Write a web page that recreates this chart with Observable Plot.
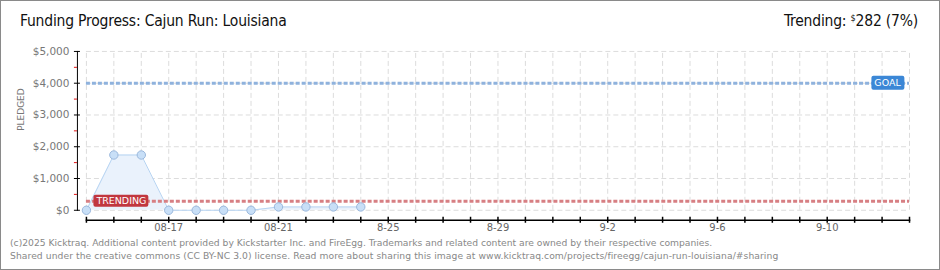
<!DOCTYPE html>
<html>
<head>
<meta charset="utf-8">
<script src="https://cdn.jsdelivr.net/npm/d3@7"></script>
<script src="https://cdn.jsdelivr.net/npm/@observablehq/plot@0.6"></script>
<style>
  html, body { margin: 0; padding: 0; background: #fff; }
  #box { position: relative; width: 938px; height: 268px; border: 1px solid #8a8a8a; overflow: hidden; background: #fff; }
  #chart { position: absolute; left: -1px; top: -1px; }
  .title { position: absolute; left: 19px; top: 11px; font-family: "DejaVu Sans Condensed", "DejaVu Sans", sans-serif; font-size: 15.5px; color: #111; white-space: nowrap; letter-spacing: -0.2px; }
  .trend { position: absolute; right: 21px; top: 11px; font-family: "DejaVu Sans Condensed", "DejaVu Sans", sans-serif; font-size: 15.5px; color: #111; white-space: nowrap; letter-spacing: -0.2px; }
  .trend sup { font-size: 9px; vertical-align: 5px; }
  .foot { position: absolute; left: 9px; font-family: "DejaVu Sans", sans-serif; font-size: 9.2px; color: #888; white-space: nowrap; }
</style>
</head>
<body>
<div id="box">
  <div id="chart"></div>
  <div class="title">Funding Progress: Cajun Run: Louisiana</div>
  <div class="trend">Trending:&nbsp;<sup>$</sup>282 (7%)</div>
  <div class="foot" style="top:236px">(c)2025 Kicktraq. Additional content provided by Kickstarter Inc. and FireEgg. Trademarks and related content are owned by their respective companies.</div>
  <div class="foot" style="top:249px; letter-spacing:0.07px">Shared under the creative commons (CC BY-NC 3.0) license. Read more about sharing this image at www.kicktraq.com/projects/fireegg/cajun-run-louisiana/#sharing</div>
</div>
<script>
// ---- data ----
const dates = ["2025-08-14","2025-08-15","2025-08-16","2025-08-17","2025-08-18","2025-08-19","2025-08-20","2025-08-21","2025-08-22","2025-08-23","2025-08-24"];
const pledged = [0, 1740, 1740, 0, 0, 0, 0, 105, 105, 105, 105];
const goalValue = 4000;
const trendingValue = 282;
const xDomain = ["2025-08-14", "2025-09-13"];
const yTicks = [0, 1000, 2000, 3000, 4000, 5000];
const yMinorTicks = [500, 1500, 2500, 3500, 4500];
const xLabelDates = ["2025-08-17","2025-08-21","2025-08-25","2025-08-29","2025-09-02","2025-09-06","2025-09-10"];
const xLabels = ["08-17","08-21","8-25","8-29","9-2","9-6","9-10"];
const badgeLabels = ["TRENDING", "GOAL"];

const parse = d3.utcParse("%Y-%m-%d");
const data = dates.map((d, i) => ({date: parse(d), value: pledged[i]}));
const x0 = parse(xDomain[0]), x1 = parse(xDomain[1]);
const days = d3.utcDay.range(x0, d3.utcDay.offset(x1, 1));
const labelDates = xLabelDates.map(parse);
const fmt = d3.format(",");

const chart = Plot.plot({
  width: 940,
  height: 270,
  marginLeft: 86,
  marginRight: 30,
  marginTop: 51,
  marginBottom: 60,
  style: {background: "transparent", fontFamily: "DejaVu Sans, sans-serif"},
  x: {type: "utc", domain: [x0, x1]},
  y: {domain: [0, 5000]},
  marks: [
    Plot.ruleX(days, {x: d => d, y1: 0, y2: 5000, stroke: "#dcdcdc", strokeDasharray: "5,3"}),
    Plot.ruleY(yTicks, {y: d => d, x1: x0, x2: x1, stroke: "#dcdcdc", strokeDasharray: "5,3"}),
    Plot.areaY(data, {x: "date", y: "value", fill: "#eaf2fc"}),
    Plot.lineY(data, {x: "date", y: "value", stroke: "#b7d4f2", strokeWidth: 1}),
    Plot.ruleY([goalValue], {y: d => d, stroke: "#8fb2dd", strokeWidth: 3, strokeDasharray: "4,2"}),
    Plot.ruleY([trendingValue], {y: d => d, stroke: "#d77f83", strokeWidth: 3, strokeDasharray: "4,2"}),
    Plot.dot(data, {x: "date", y: "value", r: 4.2, fill: "#c8dff7", stroke: "#9ab7db", strokeWidth: 1}),
    // y axis
    Plot.frame({anchor: "left", dx: -9, stroke: "#000"}),
    Plot.axisY({ticks: yTicks, tickSize: 6, dx: -6, tickPadding: 5, tickFormat: d => "$" + fmt(d), fill: "#777", stroke: "#000", fontSize: 10.5, label: null}),
    Plot.axisY({ticks: yMinorTicks, tickSize: 3, dx: -9, tickFormat: () => "", stroke: "#e01010", label: null}),
    Plot.text(["PLEDGED"], {frameAnchor: "left", dx: -65, rotate: -90, text: d => d, fill: "#777", fontSize: 9, letterSpacing: 1}),
    // x axis
    Plot.frame({anchor: "bottom", dy: 10, stroke: "#000", strokeWidth: 1.5}),
    Plot.axisX({ticks: days, tickSize: 6, dy: 7, tickFormat: () => "", stroke: "#000", strokeWidth: 1.5, label: null}),
    Plot.axisX({ticks: labelDates, tickSize: 0, dy: 10, tickPadding: 4, tickFormat: (d, i) => xLabels[i], fill: "#666", fontSize: 10, label: null}),
    // badges
    Plot.text([trendingValue], {x: () => x0, y: d => d, text: () => badgeLabels[0], dx: 35, fill: "#fff", fontSize: 9.5, letterSpacing: 0.5}),
    Plot.text([goalValue], {x: () => x1, y: d => d, text: () => badgeLabels[1], dx: -22, fill: "#fff", fontSize: 9.5, letterSpacing: 0.8})
  ]
});
document.getElementById("chart").appendChild(chart);

const badgeColors = {"TRENDING": "#c1373f", "GOAL": "#3b87d6"};
chart.querySelectorAll("text").forEach(t => {
  const color = badgeColors[t.textContent.trim()];
  if (!color) return;
  const b = t.getBBox();
  const r = document.createElementNS("http://www.w3.org/2000/svg", "rect");
  const tr = t.getAttribute("transform");
  if (tr) r.setAttribute("transform", tr);
  const w = color === "#c1373f" ? 55 : 33;
  const h = color === "#c1373f" ? 12 : 14;
  r.setAttribute("x", b.x + b.width / 2 - w / 2);
  r.setAttribute("y", b.y + b.height / 2 - h / 2);
  r.setAttribute("width", w);
  r.setAttribute("height", h);
  r.setAttribute("rx", 2);
  r.setAttribute("fill", color);
  t.parentNode.insertBefore(r, t);
});
</script>
</body>
</html>
